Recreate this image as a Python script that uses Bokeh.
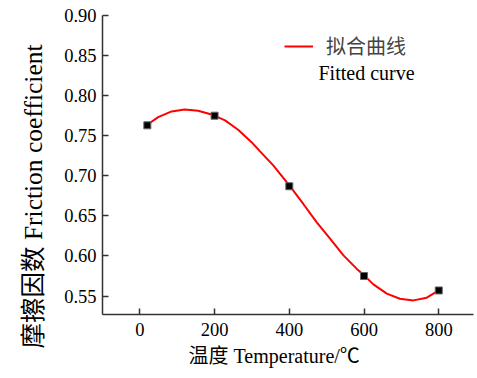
from bokeh.plotting import figure
from bokeh.models import Range1d, FixedTicker, Legend, LegendItem, Label, Title
from bokeh.embed import file_html
from bokeh.resources import INLINE

# measured data
temperature = [20, 200, 400, 600, 800]
friction = [0.763, 0.775, 0.687, 0.575, 0.557]

# fitted curve
curve_x = [20, 49, 85, 120, 156, 192, 228, 263, 299, 321, 357, 400, 437, 473,
           509, 545, 580, 603, 625, 661, 696, 732, 768, 800]
curve_y = [0.7637, 0.7732, 0.7803, 0.7828, 0.7812, 0.7766, 0.7691, 0.7575, 0.7420,
           0.7308, 0.7130, 0.6880, 0.6652, 0.6423, 0.6216, 0.6007, 0.5842, 0.5746,
           0.5646, 0.5530, 0.5467, 0.5446, 0.5480, 0.5571]

x_ticks = [0, 200, 400, 600, 800]
y_ticks = [0.55, 0.60, 0.65, 0.70, 0.75, 0.80, 0.85, 0.90]
y_tick_labels = ["0.55", "0.60", "0.65", "0.70", "0.75", "0.80", "0.85", "0.90"]

x_label = "温度 Temperature/℃"
y_label = "摩擦因数 Friction coefficient"
legend_line1 = "拟合曲线"
legend_line2 = "Fitted curve"

FONT = "'Liberation Serif', 'Times New Roman', 'Noto Sans CJK SC'"
AXC = "#333333"

p = figure(width=477, height=378, output_backend="svg", toolbar_location=None,
           x_range=Range1d(-100, 893), y_range=Range1d(0.527, 0.90),
           min_border_left=102, min_border_right=4, min_border_top=15, min_border_bottom=64)
p.outline_line_color = None
p.grid.visible = False
p.background_fill_color = "white"
p.border_fill_color = "white"

for ax in (p.xaxis[0], p.yaxis[0]):
    ax.axis_line_color = AXC
    ax.axis_line_width = 1.5
    ax.major_tick_line_color = AXC
    ax.major_tick_line_width = 1.5
    ax.major_tick_in = 6
    ax.major_tick_out = 0
    ax.minor_tick_line_color = None
    ax.major_label_text_font = FONT
    ax.major_label_text_font_size = "18.5px"
    ax.major_label_text_color = "black"

p.xaxis.ticker = FixedTicker(ticks=x_ticks)
p.yaxis.ticker = FixedTicker(ticks=y_ticks)
p.yaxis.major_label_overrides = {t: s for t, s in zip(y_ticks, y_tick_labels)}
p.xaxis.major_label_standoff = 8
p.yaxis.major_label_standoff = 6

curve = p.line(curve_x, curve_y, line_color="red", line_width=2)
p.scatter(temperature, friction, marker="square", size=7, fill_color="black", line_color="#666666")

# axis titles, offset along the axes as in the reference
p.add_layout(Title(text=x_label, align="left", offset=86, standoff=12, vertical_align="top",
                   text_font=FONT, text_font_size="20px", text_font_style="normal",
                   text_color="black"), "below")
p.add_layout(Title(text=y_label, align="left", offset=-34, standoff=28, vertical_align="bottom",
                   text_font=FONT, text_font_size="25.5px", text_font_style="normal",
                   text_color="black"), "left")

legend = Legend(items=[LegendItem(label=legend_line1, renderers=[curve])],
                location=(182, 254), glyph_width=29, label_standoff=13,
                padding=0, margin=0, border_line_color=None, background_fill_alpha=0,
                label_text_font=FONT, label_text_font_size="20px")
p.add_layout(legend)

p.add_layout(Label(x=264, y=242, x_units="screen", y_units="screen", text=legend_line2,
                   text_font=FONT, text_font_size="20px", text_align="center",
                   text_baseline="middle", text_color="black"))

open("out.html", "w").write(file_html(p, INLINE))
